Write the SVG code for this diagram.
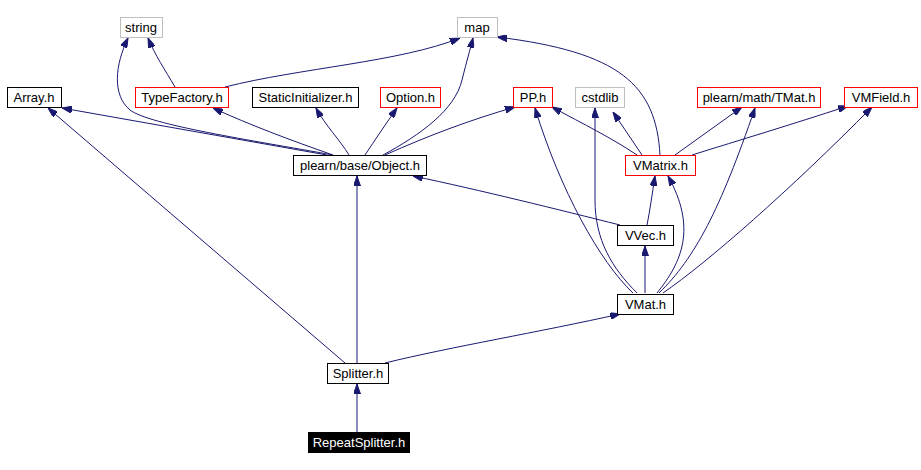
<svg xmlns="http://www.w3.org/2000/svg" width="921" height="470" viewBox="0 0 921 470">
<defs>
<marker id="a" viewBox="0 0 10 7" refX="10" refY="3.5" markerWidth="10" markerHeight="7" orient="auto" markerUnits="userSpaceOnUse"><path d="M0,0 L10,3.5 L0,7 z" fill="#191970" stroke="#191970" stroke-width="1"/></marker>
<style>
.e{fill:none;stroke:#191970;stroke-width:1;marker-end:url(#a)}
.n rect{fill:#fff;stroke:#000;stroke-width:1}
.n.r rect{stroke:#ff0000}
.n.g rect{stroke:#bfbfbf}
text{font-family:"Liberation Sans",Arial,sans-serif;font-size:13px;text-anchor:middle;fill:#000}
.n.b rect{fill:#000;stroke:#000}
.n.b text{fill:#fff}
</style>
</defs>
<rect width="921" height="470" fill="#fff"/>
<g id="edges">
<path class="e" d="M357,432 L357,384"/>
<path class="e" d="M357,363 L357,176"/>
<path class="e" d="M345,363 L48,108"/>
<path class="e" d="M385,363 C450,347 540,332 620,314"/>
<path class="e" d="M645,293 L645,246"/>
<path class="e" d="M657,293 C682,262 697,228 668,176"/>
<path class="e" d="M647,225 C650,210 652,195 655,176"/>
<path class="e" d="M620,225 C560,210 480,190 413,176"/>
<path class="e" d="M633,293 C600,262 560,190 535,108"/>
<path class="e" d="M637,293 C612,268 595,240 595,200 L595,108"/>
<path class="e" d="M659,293 C695,258 720,210 755,108"/>
<path class="e" d="M663,293 C708,262 790,190 872,107"/>
<path class="e" d="M637,155 C610,137 585,125 552,107"/>
<path class="e" d="M642,155 L613,112"/>
<path class="e" d="M660,155 C656,85 620,52 497,37"/>
<path class="e" d="M675,155 L742,107"/>
<path class="e" d="M692,155 C740,140 790,125 848,106"/>
<path class="e" d="M327,155 L62,108"/>
<path class="e" d="M333,155 C250,140 150,125 130,110 C112,95 115,65 128,38"/>
<path class="e" d="M333,155 C290,140 250,125 213,108"/>
<path class="e" d="M349,155 C340,140 325,125 316,108"/>
<path class="e" d="M365,155 C375,140 387,122 397,108"/>
<path class="e" d="M383,155 C420,135 455,110 462,80 C467,60 470,50 473,38"/>
<path class="e" d="M385,155 C430,135 470,120 515,107"/>
<path class="e" d="M175,87 C165,70 155,55 148,38"/>
<path class="e" d="M225,87 C300,68 400,62 460,38"/>
</g>
<g id="n-string" class="n g"><rect x="120.5" y="17.5" width="42" height="20"/><text x="141" y="32">string</text></g>
<g id="n-map" class="n g"><rect x="457.5" y="17.5" width="40" height="20"/><text x="477" y="32">map</text></g>
<g id="n-array" class="n"><rect x="7.5" y="87.5" width="54" height="20"/><text x="34" y="102">Array.h</text></g>
<g id="n-typefactory" class="n r"><rect x="135.5" y="87.5" width="93" height="20"/><text x="182" y="102">TypeFactory.h</text></g>
<g id="n-staticinit" class="n"><rect x="252.5" y="87.5" width="106" height="20"/><text x="305.5" y="102">StaticInitializer.h</text></g>
<g id="n-option" class="n r"><rect x="380.5" y="87.5" width="60" height="20"/><text x="410.5" y="102">Option.h</text></g>
<g id="n-pp" class="n r"><rect x="513.5" y="87.5" width="39" height="20"/><text x="533" y="102">PP.h</text></g>
<g id="n-cstdlib" class="n g"><rect x="575.5" y="87.5" width="49" height="20"/><text x="600" y="102">cstdlib</text></g>
<g id="n-tmat" class="n r"><rect x="697.5" y="87.5" width="123" height="20"/><text x="759" y="102">plearn/math/TMat.h</text></g>
<g id="n-vmfield" class="n r"><rect x="844.5" y="87.5" width="73" height="20"/><text x="881" y="102">VMField.h</text></g>
<g id="n-object" class="n"><rect x="293.5" y="155.5" width="133" height="20"/><text x="360" y="170">plearn/base/Object.h</text></g>
<g id="n-vmatrix" class="n r"><rect x="625.5" y="155.5" width="70" height="20"/><text x="660.5" y="170">VMatrix.h</text></g>
<g id="n-vvec" class="n"><rect x="617.5" y="225.5" width="56" height="20"/><text x="645.5" y="240">VVec.h</text></g>
<g id="n-vmat" class="n"><rect x="617.5" y="294.5" width="56" height="20"/><text x="645.5" y="309">VMat.h</text></g>
<g id="n-splitter" class="n"><rect x="327.5" y="363.5" width="61" height="20"/><text x="358" y="378">Splitter.h</text></g>
<g id="n-repeatsplitter" class="n b"><rect x="308.5" y="432.5" width="101" height="20"/><text x="359" y="447">RepeatSplitter.h</text></g>
</svg>
